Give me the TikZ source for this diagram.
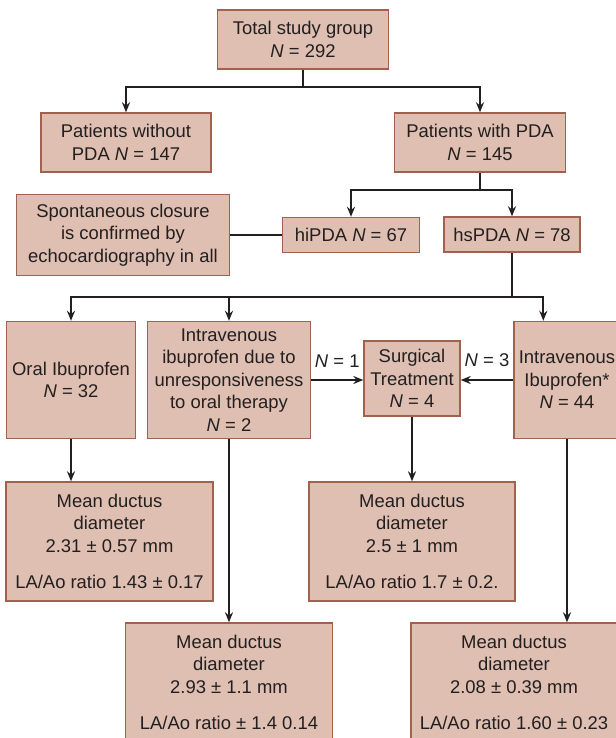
\documentclass[tikz,border=0pt]{standalone}
\usepackage{fontspec}
\setmainfont{Liberation Sans}
\usetikzlibrary{arrows.meta}

\definecolor{boxfill}{RGB}{222,191,177}
\definecolor{boxline}{RGB}{160,98,78}
\definecolor{ink}{RGB}{35,31,32}

\tikzset{
    box/.style={draw=boxline, fill=boxfill, line width=1.4bp, align=center, inner sep=0pt, text=ink},
    arrow/.style={-{Stealth[length=10bp,width=8bp]}, line width=1.8bp, draw=ink},
    link/.style={line width=1.8bp, draw=ink},
    count/.style={anchor=south, inner sep=0pt, yshift=12bp, text=ink}
}

\begin{document}
\begin{tikzpicture}[x=1bp,y=-1bp,font=\fontsize{18.5}{22.5}\selectfont]
    \useasboundingbox (0,0) rectangle (616,738);

    % top levels
    \node[box, minimum width=171bp, minimum height=59bp] (total) at (303,39.5) {Total study group\\\textit{N} = 292};
    \node[box, minimum width=170bp, minimum height=59bp] (nopda) at (126,142.5) {Patients without\\PDA \textit{N} = 147};
    \node[box, minimum width=171bp, minimum height=59bp] (pda) at (480,142.5) {Patients with PDA\\\textit{N} = 145};

    % pda split
    \node[box, minimum width=213bp, minimum height=81bp] (spont) at (123,235) {Spontaneous closure\\is confirmed by\\echocardiography in all};
    \node[box, minimum width=137bp, minimum height=35bp] (hipda) at (351,235) {hiPDA \textit{N} = 67};
    \node[box, minimum width=136bp, minimum height=35bp] (hspda) at (512,234.5) {hsPDA \textit{N} = 78};

    % treatments
    \node[box, minimum width=129bp, minimum height=117bp] (oral) at (71,380) {Oral Ibuprofen\\\textit{N} = 32};
    \node[box, minimum width=163bp, minimum height=117bp] (ivdue) at (229,380) {Intravenous\\ibuprofen due to\\unresponsiveness\\to oral therapy\\\textit{N} = 2};
    \node[box, minimum width=96bp, minimum height=75bp] (surg) at (412,378.5) {Surgical\\Treatment\\\textit{N} = 4};
    \node[box, minimum width=106bp, minimum height=117bp] (ivstar) at (567,380) {Intravenous\\Ibuprofen*\\\textit{N} = 44};

    % ductus results
    \node[box, minimum width=207bp, minimum height=119bp] (mean1) at (109.5,541.5) {Mean ductus\\diameter\\2.31 ± 0.57 mm\\[14bp]LA/Ao ratio 1.43 ± 0.17};
    \node[box, minimum width=206bp, minimum height=119bp] (mean3) at (412,541.5) {Mean ductus\\diameter\\2.5 ± 1 mm\\[14bp]LA/Ao ratio 1.7 ± 0.2.};
    \node[box, minimum width=207bp, minimum height=119bp] (mean2) at (229,682.5) {Mean ductus\\diameter\\2.93 ± 1.1 mm\\[14bp]LA/Ao ratio ± 1.4 0.14};
    \node[box, minimum width=206bp, minimum height=119bp] (mean4) at (514,682.5) {Mean ductus\\diameter\\2.08 ± 0.39 mm\\[14bp]LA/Ao ratio 1.60 ± 0.23};

    % connectors
    \draw[link] (total.south) -- ++(0,17) coordinate (topsplit);
    \draw[arrow] (topsplit) -| (nopda.north);
    \draw[arrow] (topsplit) -| (pda.north);

    \draw[link] (pda.south) -- ++(0,17) coordinate (pdasplit);
    \draw[arrow] (pdasplit) -| (hipda.north);
    \draw[arrow] (pdasplit) -| (hspda.north);
    \draw[link] (spont.east) -- (hipda.west);

    \draw[link] (hspda.south) -- ++(0,44) coordinate (hssplit);
    \draw[arrow] (hssplit) -| (oral.north);
    \draw[arrow] (ivdue.north |- hssplit) -- (ivdue.north);
    \draw[arrow] (hssplit) -| ([xshift=30bp]ivstar.north west);

    \draw[arrow] (ivdue.east) -- (ivdue.east -| surg.west) node[count, midway] {\textit{N} = 1};
    \draw[arrow] (ivstar.west) -- (ivstar.west -| surg.east) node[count, midway] {\textit{N} = 3};

    \draw[arrow] (oral.south) -- (oral.south |- mean1.north);
    \draw[arrow] (ivdue.south) -- (mean2.north);
    \draw[arrow] (surg.south) -- (mean3.north);
    \draw[arrow] (ivstar.south) -- (ivstar.south |- mean4.north);
\end{tikzpicture}
\end{document}
